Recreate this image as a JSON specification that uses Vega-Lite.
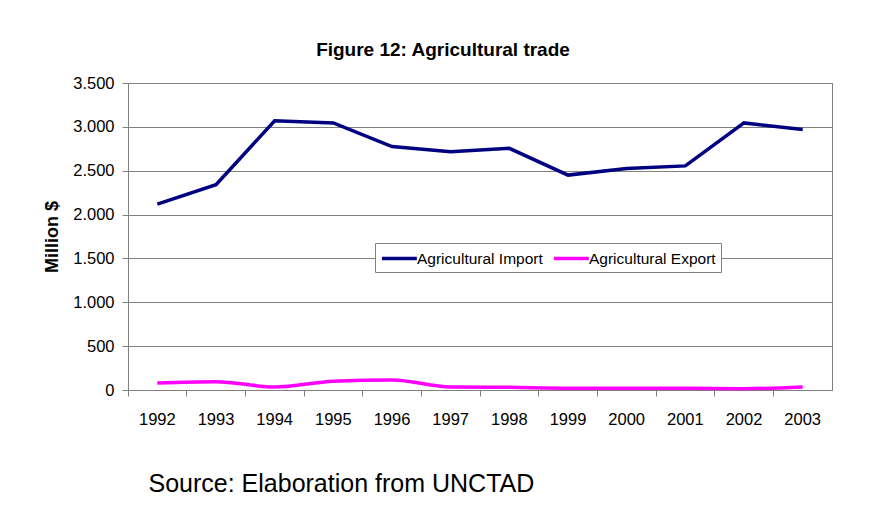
{
  "$schema": "https://vega.github.io/schema/vega-lite/v6.json",
  "width": 704,
  "height": 307,
  "autosize": {"type": "none"},
  "padding": {"left": 128, "top": 83, "right": 47, "bottom": 139},
  "background": "white",
  "title": {
    "text": "Figure 12: Agricultural trade",
    "font": "Liberation Sans",
    "fontSize": 19,
    "fontWeight": "bold",
    "color": "black",
    "anchor": "middle",
    "frame": "group",
    "dx": -37,
    "baseline": "alphabetic",
    "offset": 0
  },
  "data": {
    "values": [
      {"year": "1992", "series": "Agricultural Import", "value": 2120},
      {"year": "1993", "series": "Agricultural Import", "value": 2340},
      {"year": "1994", "series": "Agricultural Import", "value": 3070},
      {"year": "1995", "series": "Agricultural Import", "value": 3045},
      {"year": "1996", "series": "Agricultural Import", "value": 2775},
      {"year": "1997", "series": "Agricultural Import", "value": 2715},
      {"year": "1998", "series": "Agricultural Import", "value": 2755},
      {"year": "1999", "series": "Agricultural Import", "value": 2450},
      {"year": "2000", "series": "Agricultural Import", "value": 2525},
      {"year": "2001", "series": "Agricultural Import", "value": 2555},
      {"year": "2002", "series": "Agricultural Import", "value": 3045},
      {"year": "2003", "series": "Agricultural Import", "value": 2970},
      {"year": "1992", "series": "Agricultural Export", "value": 80},
      {"year": "1993", "series": "Agricultural Export", "value": 95},
      {"year": "1994", "series": "Agricultural Export", "value": 35},
      {"year": "1995", "series": "Agricultural Export", "value": 100},
      {"year": "1996", "series": "Agricultural Export", "value": 115},
      {"year": "1997", "series": "Agricultural Export", "value": 35},
      {"year": "1998", "series": "Agricultural Export", "value": 30},
      {"year": "1999", "series": "Agricultural Export", "value": 20},
      {"year": "2000", "series": "Agricultural Export", "value": 20},
      {"year": "2001", "series": "Agricultural Export", "value": 20},
      {"year": "2002", "series": "Agricultural Export", "value": 15},
      {"year": "2003", "series": "Agricultural Export", "value": 35}
    ]
  },
  "encoding": {
    "y": {
      "field": "value",
      "type": "quantitative",
      "scale": {"domain": [0, 3500], "nice": false},
      "axis": {
        "title": "Million $",
        "titleFont": "Liberation Sans",
        "titleFontSize": 18,
        "titleFontWeight": "bold",
        "titleColor": "black",
        "titlePadding": 11,
        "values": [0, 500, 1000, 1500, 2000, 2500, 3000, 3500],
        "labelExpr": "replace(format(datum.value, ','), ',', '.')",
        "labelFont": "Liberation Sans",
        "labelFontSize": 16.5,
        "labelColor": "black",
        "labelPadding": 8,
        "tickSize": 6,
        "tickColor": "#808080",
        "domainColor": "#808080",
        "grid": true,
        "gridColor": "#808080",
        "gridOpacity": 1
      }
    },
    "color": {
      "field": "series",
      "type": "nominal",
      "scale": {
        "domain": ["Agricultural Import", "Agricultural Export"],
        "range": ["#000080", "#ff00ff"]
      },
      "legend": {
        "orient": "none",
        "legendX": 247,
        "legendY": 160,
        "direction": "horizontal",
        "title": null,
        "strokeColor": "#808080",
        "fillColor": "white",
        "padding": 5,
        "labelFont": "Liberation Sans",
        "labelFontSize": 15.5,
        "labelColor": "black",
        "symbolType": "M-1,0H3.1",
        "symbolSize": 289,
        "symbolStrokeWidth": 3.5,
        "labelOffset": 16,
        "columnPadding": 4
      }
    }
  },
  "layer": [
    {
      "transform": [{"filter": "datum.series === 'Agricultural Import'"}],
      "mark": {"type": "line", "strokeWidth": 3.5},
      "encoding": {
        "x": {
          "field": "year",
          "type": "ordinal",
          "bandPosition": 0.5,
          "scale": {"type": "band", "paddingInner": 0, "paddingOuter": 0},
          "axis": {
            "orient": "bottom",
            "title": "Source: Elaboration from UNCTAD",
            "titleFont": "Liberation Sans",
            "titleFontSize": 25,
            "titleFontWeight": "normal",
            "titleColor": "black",
            "titleAnchor": "start",
            "titleAlign": "left",
            "titleX": 20,
            "titleY": 101,
            "titleBaseline": "alphabetic",
            "labelAngle": 0,
            "labelFont": "Liberation Sans",
            "labelFontSize": 16.5,
            "labelColor": "black",
            "labelPadding": 21,
            "ticks": false,
            "tickSize": 0,
            "domainColor": "#808080"
          }
        }
      }
    },
    {
      "transform": [{"filter": "datum.series === 'Agricultural Export'"}],
      "mark": {"type": "line", "strokeWidth": 3.5, "interpolate": "monotone"},
      "encoding": {
        "x": {
          "field": "year",
          "type": "ordinal",
          "bandPosition": 0.5,
          "scale": {"type": "band", "paddingInner": 0, "paddingOuter": 0},
          "axis": {
            "orient": "bottom",
            "title": null,
            "labels": false,
            "ticks": true,
            "tickSize": 6,
            "tickColor": "#808080",
            "bandPosition": 0,
            "domain": false,
            "grid": false
          }
        }
      }
    }
  ],
  "resolve": {"axis": {"x": "independent"}},
  "config": {
    "view": {"stroke": "#808080", "strokeWidth": 1}
  }
}
